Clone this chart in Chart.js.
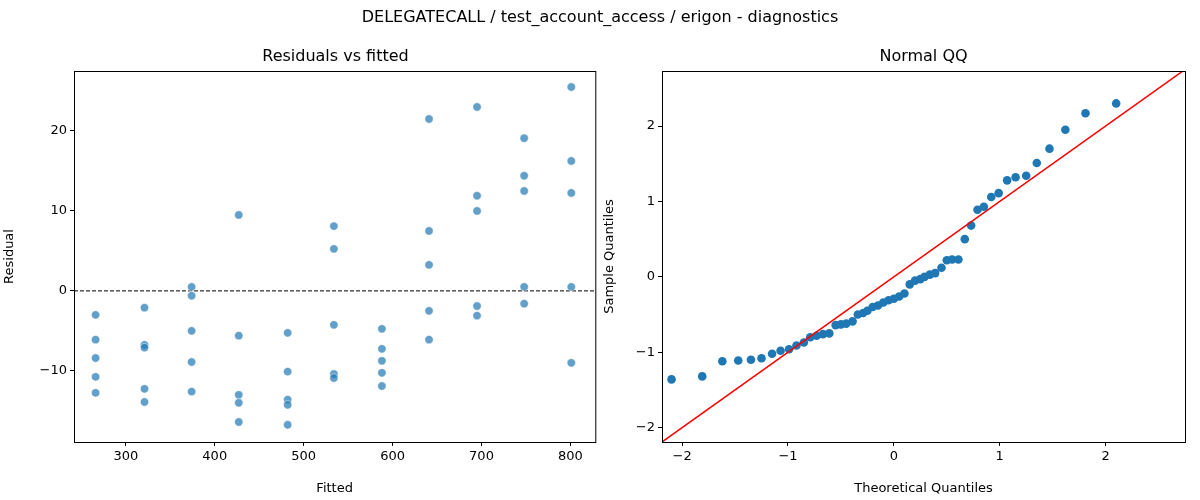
<!DOCTYPE html>
<html><head><meta charset="utf-8">
<script src="https://cdn.jsdelivr.net/npm/chart.js@4.4.1/dist/chart.umd.min.js"></script>
<style>
body{margin:0;background:#fff;font-family:"DejaVu Sans",sans-serif;}
#wrap{position:relative;width:1200px;height:500px;}
.t{position:absolute;text-align:center;color:#000;}
canvas{position:absolute;top:0;left:0;}
</style></head><body>
<div id="wrap">
<div style="position:absolute;left:0;top:0;width:600px;height:500px"><canvas id="resid" width="600" height="500"></canvas></div>
<div style="position:absolute;left:600px;top:0;width:600px;height:500px"><canvas id="qq" width="600" height="500"></canvas></div>
<div class="t" style="left:0;width:1200px;top:7px;font-size:16px">DELEGATECALL / test_account_access / erigon - diagnostics</div>
<div class="t" style="left:74px;width:523px;top:46px;font-size:16px">Residuals vs fitted</div>
<div class="t" style="left:662px;width:523px;top:46px;font-size:16px">Normal QQ</div>
</div>
<script>
// fitted values (one column of 5 points each)
const fitted = [266, 321, 374, 427, 482, 534, 588, 641, 695, 748, 801];
const residuals = [
  [-3, -6.1, -8.4, -10.75, -12.75],
  [-2.1, -6.75, -7.1, -12.25, -13.9],
  [0.5, -0.6, -5, -8.9, -12.6],
  [9.5, -5.6, -13, -14, -16.4],
  [-5.25, -10.1, -13.6, -14.25, -16.75],
  [8.1, 5.25, -4.25, -10.4, -10.9],
  [-4.75, -7.25, -8.75, -10.25, -11.9],
  [21.5, 7.5, 3.25, -2.5, -6.1],
  [23, 11.9, 10, -1.9, -3.1],
  [19.1, 14.4, 12.5, 0.5, -1.6],
  [25.5, 16.25, 12.25, 0.5, -9]
];
const theoretical = [-2.10,-1.81,-1.62,-1.47,-1.35,-1.25,-1.15,-1.07,-0.99,-0.92,-0.85,-0.79,-0.73,-0.67,-0.61,-0.55,-0.50,-0.45,-0.39,-0.34,-0.29,-0.25,-0.20,-0.15,-0.10,-0.05,0,
  0.05,0.10,0.15,0.20,0.25,0.29,0.34,0.39,0.45,0.50,0.55,0.61,0.67,0.73,0.79,0.85,0.92,0.99,1.07,1.15,1.25,1.35,1.47,1.62,1.81,2.10];
const sample = [-1.36,-1.32,-1.12,-1.11,-1.10,-1.08,-1.02,-0.98,-0.96,-0.91,-0.87,-0.80,-0.78,-0.76,-0.75,-0.64,-0.63,-0.62,-0.59,-0.50,-0.48,-0.45,-0.40,-0.38,-0.34,-0.31,-0.29,
  -0.26,-0.22,-0.10,-0.05,-0.03,0.0,0.03,0.05,0.12,0.22,0.23,0.23,0.50,0.68,0.89,0.93,1.06,1.11,1.28,1.32,1.34,1.51,1.70,1.95,2.17,2.30,2.54];
const xTicksL = [300, 400, 500, 600, 700, 800];
const yTicksL = [-10, 0, 10, 20];
const ticksR = [-2, -1, 0, 1, 2];

Chart.defaults.font.family = '"DejaVu Sans", sans-serif';
Chart.defaults.font.size = 13;
Chart.defaults.color = '#000';

const frame = {
  id: 'frame',
  afterDraw(c) {
    const a = c.chartArea, ctx = c.ctx;
    ctx.save(); ctx.strokeStyle = '#000'; ctx.lineWidth = 1;
    ctx.strokeRect(a.left + 0.5, a.top + 0.5, a.right - a.left, a.bottom - a.top);
    ctx.restore();
  }
};
function axis(min, max, vals, title, isY, width) {
  return {
    type: 'linear', min, max,
    afterBuildTicks: s => { s.ticks = vals.map(v => ({value: v})); },
    afterFit: s => { if (isY) s.width = width; else s.height = width; },
    grid: {drawOnChartArea: false, drawTicks: true, tickLength: 4, color: '#000'},
    border: {display: false},
    ticks: {padding: 3, autoSkip: false, callback: v => v < 0 ? '\u2212' + Math.abs(v) : v},
    title: {display: true, text: title, font: {size: 13}, padding: {top: 2, bottom: 4}}
  };
}

const pts = [];
fitted.forEach((f, i) => residuals[i].forEach(r => pts.push({x: f, y: r})));

new Chart(document.getElementById('resid'), {
  type: 'scatter',
  data: {datasets: [
    {data: pts, backgroundColor: 'rgba(31,119,180,0.7)', borderColor: '#fff', borderWidth: 0.5, pointRadius: 4.2},
    {type: 'line', data: [{x: 241.7, y: 0}, {x: 828, y: 0}], borderColor: '#000', borderWidth: 1, borderDash: [4, 2], pointRadius: 0}
  ]},
  plugins: [frame],
  options: {
    responsive: false, animation: false, devicePixelRatio: 1,
    layout: {padding: {top: 71, right: 3, left: 0, bottom: 0}},
    plugins: {legend: {display: false}, tooltip: {enabled: false}},
    scales: {
      x: axis(241.7, 828, xTicksL, 'Fitted', false, 58),
      y: axis(-18.9, 27.5, yTicksL, 'Residual', true, 74)
    }
  }
});

const qq = theoretical.map((t, i) => ({x: t, y: sample[i]}));
new Chart(document.getElementById('qq'), {
  type: 'scatter',
  data: {datasets: [
    {type: 'line', data: [{x: -2.19, y: -2.19}, {x: 2.75, y: 2.75}], borderColor: '#ff0000', borderWidth: 1.5, pointRadius: 0},
    {data: qq, backgroundColor: '#1f77b4', borderColor: '#1f77b4', borderWidth: 0, pointRadius: 4.3}
  ]},
  plugins: [frame],
  options: {
    responsive: false, animation: false, devicePixelRatio: 1,
    layout: {padding: {top: 71, right: 15, left: 0, bottom: 0}},
    plugins: {legend: {display: false}, tooltip: {enabled: false}},
    scales: {
      x: axis(-2.19, 2.75, ticksR, 'Theoretical Quantiles', false, 58),
      y: axis(-2.19, 2.73, ticksR, 'Sample Quantiles', true, 62)
    }
  }
});
</script>
</body></html>
